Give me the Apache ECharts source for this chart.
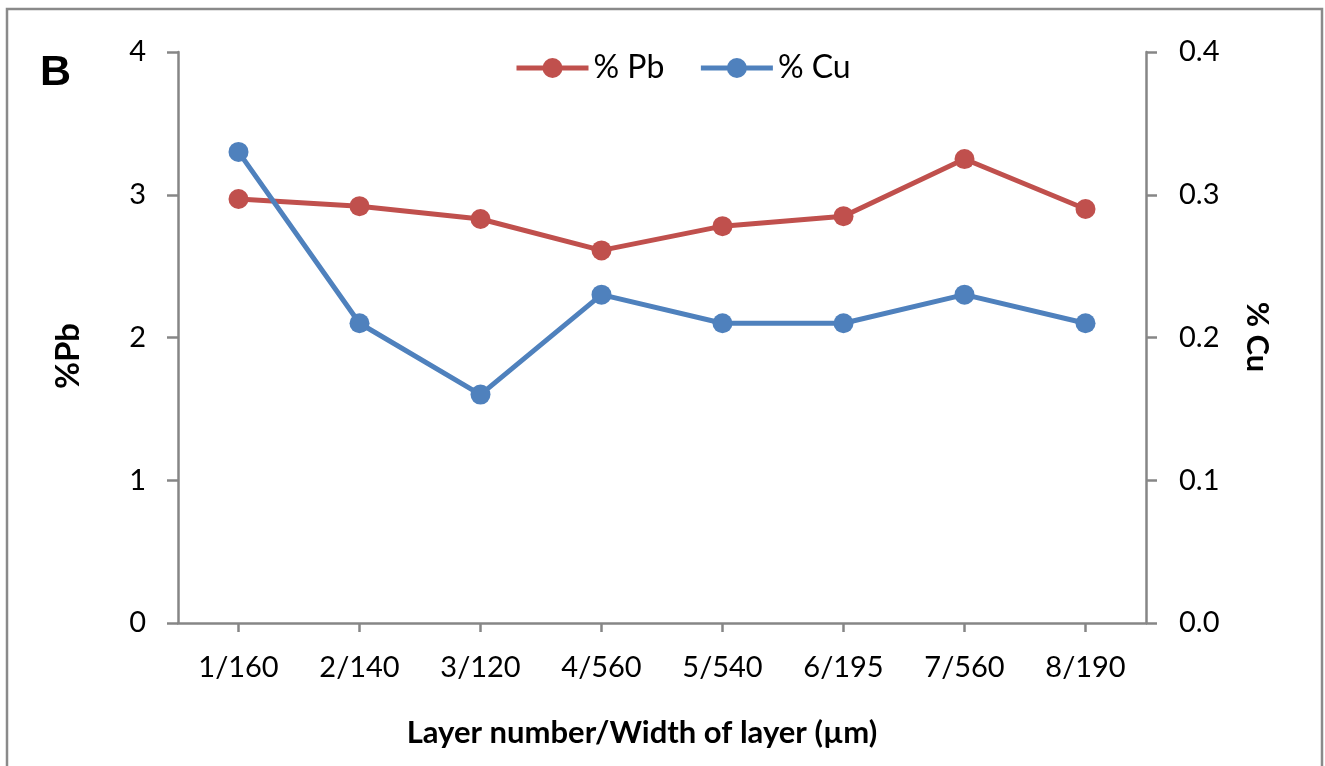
<!DOCTYPE html>
<html>
<head>
<meta charset="utf-8">
<script src="https://cdn.jsdelivr.net/npm/echarts@6/dist/echarts.min.js"></script>
<style>
  html, body { margin: 0; padding: 0; background: #ffffff; }
  #chart { width: 1325px; height: 766px; }
</style>
</head>
<body>
<div id="chart"></div>
<script>
// Layer number / width of layer (µm)
const layers = ['1/160', '2/140', '3/120', '4/560', '5/540', '6/195', '7/560', '8/190'];
// Lead content per layer (%)
const pbPercent = [2.97, 2.92, 2.83, 2.61, 2.78, 2.85, 3.25, 2.90];
// Copper content per layer (%)
const cuPercent = [0.33, 0.21, 0.16, 0.23, 0.21, 0.21, 0.23, 0.21];
// Axis ticks
const pbTicks = [0, 1, 2, 3, 4];
const cuTicks = [0.0, 0.1, 0.2, 0.3, 0.4];

const RED = '#C0504D';
const BLUE = '#4F81BD';
const AXIS = '#868686';
const FONT = 'Lato, "Open Sans", sans-serif';

const chart = echarts.init(document.getElementById('chart'), null, { renderer: 'canvas' });

const valueAxis = (ticks, pos, fmt, margin) => ({
  type: 'value',
  position: pos,
  min: ticks[0],
  max: ticks[ticks.length - 1],
  interval: ticks[1] - ticks[0],
  splitLine: { show: false },
  axisLine: { show: true, lineStyle: { color: AXIS, width: 2.5 } },
  axisTick: { show: true, length: 11, lineStyle: { color: AXIS, width: 2.5 } },
  axisLabel: {
    color: '#000', fontFamily: FONT, fontSize: 29, margin: margin,
    formatter: fmt
  }
});

chart.setOption({
  animation: false,
  backgroundColor: '#ffffff',
  grid: { left: 178, right: 179, top: 52, bottom: 143, containLabel: false },
  legend: {
    top: 52,
    left: 514,
    padding: 0,
    itemWidth: 72,
    itemHeight: 25,
    itemGap: 34,
    lineStyle: { width: 5 },
    textStyle: { color: '#000', fontFamily: FONT, fontSize: 32 },
    data: ['% Pb', '% Cu']
  },
  xAxis: {
    type: 'category',
    data: layers,
    boundaryGap: true,
    axisLine: { show: true, lineStyle: { color: AXIS, width: 2.5 } },
    axisTick: { show: true, alignWithLabel: true, length: 9, lineStyle: { color: AXIS, width: 2.5 } },
    axisLabel: { color: '#000', fontFamily: FONT, fontSize: 29, margin: 30 },
    splitLine: { show: false }
  },
  yAxis: [
    valueAxis(pbTicks, 'left', v => String(v), 32),
    valueAxis(cuTicks, 'right', v => v.toFixed(1), 33)
  ],
  series: [
    {
      name: '% Pb',
      type: 'line',
      yAxisIndex: 0,
      data: pbPercent,
      color: RED,
      symbol: 'circle',
      symbolSize: 20,
      lineStyle: { color: RED, width: 5 },
      itemStyle: { color: RED }
    },
    {
      name: '% Cu',
      type: 'line',
      yAxisIndex: 1,
      data: cuPercent,
      color: BLUE,
      symbol: 'circle',
      symbolSize: 20,
      lineStyle: { color: BLUE, width: 5 },
      itemStyle: { color: BLUE }
    }
  ],
  graphic: [
    {
      type: 'rect',
      shape: { x: 7, y: 9, width: 1315, height: 800 },
      style: { fill: null, stroke: '#8a8a8a', lineWidth: 2.5 },
      silent: true
    },
    {
      type: 'text',
      left: 40, top: 52,
      style: { text: 'B', font: 'bold 43px "Liberation Sans", Arial, sans-serif', fill: '#000' }
    },
    {
      type: 'text',
      x: 642, y: 733,
      style: {
        text: 'Layer number/Width of layer (µm)',
        font: 'bold 31px ' + FONT, fill: '#000',
        align: 'center', verticalAlign: 'middle'
      }
    },
    {
      type: 'text',
      x: 68, y: 356, rotation: Math.PI / 2,
      style: {
        text: '%Pb', font: 'bold 33px ' + FONT, fill: '#000',
        align: 'center', verticalAlign: 'middle'
      }
    },
    {
      type: 'text',
      x: 1257, y: 337, rotation: -Math.PI / 2,
      style: {
        text: '% Cu', font: 'bold 31px ' + FONT, fill: '#000',
        align: 'center', verticalAlign: 'middle'
      }
    }
  ]
});
</script>
</body>
</html>
